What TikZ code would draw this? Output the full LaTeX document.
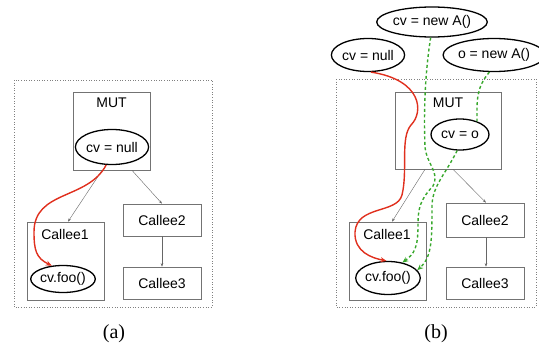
\documentclass[tikz,border=0pt]{standalone}
\usepackage{fontspec}
\setmainfont{Liberation Sans}
\newfontfamily\capfont{Liberation Serif}
\usetikzlibrary{shapes.geometric,arrows.meta}
\definecolor{flowred}{RGB}{224,48,30}
\definecolor{flowgreen}{RGB}{56,168,44}
\begin{document}
\begin{tikzpicture}
    [x=1pt,y=-1pt,
    font=\fontsize{14}{16}\selectfont,
    box/.style={draw=black!55,line width=0.7pt,rectangle,inner sep=0pt},
    oval/.style={draw,ellipse,line width=1.3pt,inner sep=0pt},
    frame/.style={draw=black!50,dotted,line width=0.6pt},
    call/.style={draw=black!60,line width=0.4pt,-{Stealth[length=3.5pt,width=2.5pt]}},
    nullflow/.style={draw=flowred,line width=1.4pt,-{Stealth[length=6pt,width=5pt]}},
    newflow/.style={draw=flowgreen,line width=1.4pt,dash pattern=on 3pt off 2.5pt,-{Stealth[length=6pt,width=5pt]}},
    newpart/.style={draw=flowgreen,line width=1.4pt,dash pattern=on 3pt off 2.5pt}]
    \useasboundingbox (0,0) rectangle (539,348);
    %panel (a)
    \draw[frame] (14,80) rectangle (212,307);
    \node[box,minimum width=77,minimum height=78] (mutA) at (111.5,131) {};
    \node (mutAt) at (111.5,103) {MUT};
    \node[oval,minimum width=64,minimum height=35] (cvnullA) at (112,147) {cv = null};
    \node[box,minimum width=77,minimum height=78] (calleeoneA) at (65.5,261) {};
    \node (calleeoneAt) at (65,234) {Callee1};
    \node[oval,minimum width=61,minimum height=27] (cvfooA) at (63,279) {cv.foo()};
    \node[box,minimum width=78,minimum height=32] (calleetwoA) at (162,220) {Callee2};
    \node[box,minimum width=78,minimum height=32] (calleethreeA) at (162,283) {Callee3};
    %calls
    \draw[call] ([xshift=-9.5pt]mutA.south) -- ([xshift=2.5pt]calleeoneA.north);
    \draw[call] ([xshift=20.5pt]mutA.south) -- (calleetwoA.north);
    \draw[call] (calleetwoA.south) -- (calleethreeA.north);
    %flow
    \draw[nullflow] (cvnullA.252) .. controls (88,200) and (34,190) .. (34,232)
        .. controls (34,250) and (36,258) .. (cvfooA.130);
    \node[font=\capfont\fontsize{20}{22}\selectfont] (capA) at (114,334) {(a)};
    %panel (b)
    \draw[frame] (336,79) rectangle (536,307);
    \node[oval,minimum width=93,minimum height=30] (cvnewB) at (432,22) {cv = new A()};
    \node[oval,minimum width=66,minimum height=33] (cvnullB) at (368,55) {cv = null};
    \node[oval,minimum width=87,minimum height=33] (onewB) at (494,55) {o = new A()};
    \node[box,minimum width=106,minimum height=77] (mutB) at (448,130.5) {};
    \node (mutBt) at (448,103) {MUT};
    \node[oval,minimum width=58,minimum height=31] (cvoB) at (460,134.5) {cv = o};
    \node[box,minimum width=77,minimum height=78] (calleeoneB) at (387.5,261) {};
    \node (calleeoneBt) at (387,234) {Callee1};
    \node[oval,minimum width=64,minimum height=33] (cvfooB) at (388,278) {cv.foo()};
    \node[box,minimum width=78,minimum height=34] (calleetwoB) at (485,220) {Callee2};
    \node[box,minimum width=78,minimum height=32] (calleethreeB) at (485,283) {Callee3};
    %calls
    \draw[call] ([xshift=-23pt]mutB.south) -- ([xshift=4.5pt]calleeoneB.north);
    \draw[call] ([xshift=5pt]mutB.south) -- ([xshift=1pt]calleetwoB.north);
    \draw[call] ([xshift=1pt]calleetwoB.south) -- ([xshift=1pt]calleethreeB.north);
    %flows
    \draw[nullflow] (cvnullB.-80) .. controls (422,80) and (424,112) .. (411,125)
        .. controls (400,138) and (408,170) .. (402,195)
        .. controls (397,214) and (357,205) .. (355,232)
        .. controls (354,252) and (372,258) .. (cvfooB.95);
    \draw[newflow] (cvnewB.-95) .. controls (424,80) and (424,120) .. (425,147)
        .. controls (427,165) and (440,172) .. (433,186)
        .. controls (420,200) and (418,208) .. (418,226)
        .. controls (418,248) and (414,254) .. (cvfooB.47);
    \draw[newpart] (onewB.-105) .. controls (476,88) and (477,100) .. (cvoB.38);
    \draw[newflow] (cvoB.-100) .. controls (445,175) and (433,185) .. (432,205)
        .. controls (432,240) and (432,257) .. (cvfooB.15);
    \node[font=\capfont\fontsize{20}{22}\selectfont] (capB) at (436,334) {(b)};
\end{tikzpicture}
\end{document}
